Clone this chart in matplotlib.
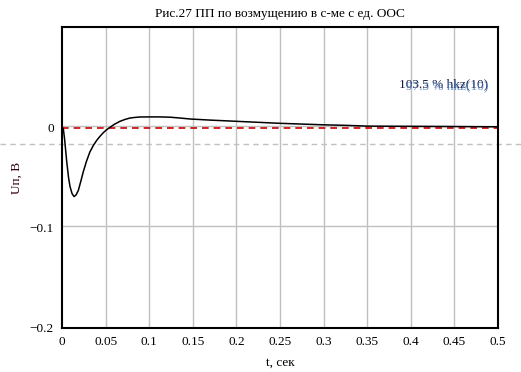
import matplotlib.pyplot as plt
import matplotlib.transforms as mtransforms

plt.rcParams['font.family'] = ['Liberation Serif', 'DejaVu Serif']

# отклик на возмущение
t = [0.0, 0.0008, 0.0015, 0.003, 0.0054, 0.0075, 0.0092, 0.0115, 0.0138,
     0.016, 0.0187, 0.0215, 0.0245, 0.028, 0.032, 0.036, 0.0398, 0.0435,
     0.0474, 0.051, 0.055, 0.06, 0.0665, 0.072, 0.078, 0.084, 0.089, 0.1,
     0.112, 0.124, 0.135, 0.147, 0.17, 0.2, 0.25, 0.3, 0.325, 0.35, 0.4,
     0.45, 0.5]
u = [0.0, -0.0005, -0.0013, -0.012, -0.034, -0.05, -0.059, -0.066, -0.069,
     -0.0675, -0.063, -0.054, -0.044, -0.034, -0.0245, -0.018, -0.013, -0.009,
     -0.0053, -0.0025, 0.0, 0.003, 0.006, 0.0078, 0.0093, 0.0099, 0.0103, 0.0104,
     0.0104, 0.0101, 0.0093, 0.0083, 0.0072, 0.006, 0.004, 0.0025, 0.002, 0.0012,
     0.001, 0.0008, 0.0005]

x_ticks = [0, 0.05, 0.1, 0.15, 0.2, 0.25, 0.3, 0.35, 0.4, 0.45, 0.5]
x_tick_labels = ['0', '0.05', '0.1', '0.15', '0.2', '0.25', '0.3', '0.35', '0.4', '0.45', '0.5']
y_ticks = [0, -0.1, -0.2]
y_tick_labels = ['0', '\u22120.1', '\u22120.2']

ref_level = 0.0
band_level = -0.017
notes = ['103.5 % hkz(10)', '97.3 % hkz(10)']

fig = plt.figure(figsize=(5.21, 3.72), dpi=100)
ax = fig.add_axes([0.119, 0.1183, 0.837, 0.8091])

ax.set_xlim(0, 0.5)
ax.set_ylim(-0.2, 0.1)
ax.set_xticks(x_ticks)
ax.set_xticklabels(x_tick_labels)
ax.set_yticks(y_ticks)
ax.set_yticklabels(y_tick_labels)
ax.tick_params(length=0, labelsize=9.5, pad=6)

for xv in x_ticks[1:-1]:
    ax.axvline(xv, color='#c0c0c0', lw=1, zorder=0)
for yv in [0, -0.1]:
    ax.axhline(yv + 0.0012, color='#c0c0c0', lw=1, zorder=0)

ax.axhline(ref_level - 0.0005, color='#cc0000', lw=1.2, ls=(0, (4, 3)), zorder=1)

tr = mtransforms.blended_transform_factory(fig.transFigure, ax.transData)
ax.plot([0, 1], [band_level, band_level], transform=tr, color='#c0c0c0',
        lw=1, ls=(0, (4, 3)), clip_on=False, zorder=1)

ax.plot(t, u, color='black', lw=1.1, zorder=3)

ax.text(0.4885, 0.0395, notes[0], fontsize=9.5, color='#1a1a40', ha='right')
ax.text(0.4885, 0.0378, notes[1], fontsize=9.5, color='#4a7cc0', ha='right', alpha=0.85)

for s in ax.spines.values():
    s.set_linewidth(1.5)

ax.set_title('Рис.27 ПП по возмущению в с-ме с ед. ООС', fontsize=9.5, pad=7)
ax.set_xlabel('t, сек', fontsize=9.5, labelpad=6)
ax.set_ylabel('Uп, В', fontsize=9.5, labelpad=5, color='#300010')

fig.savefig('out.png', dpi=100)
